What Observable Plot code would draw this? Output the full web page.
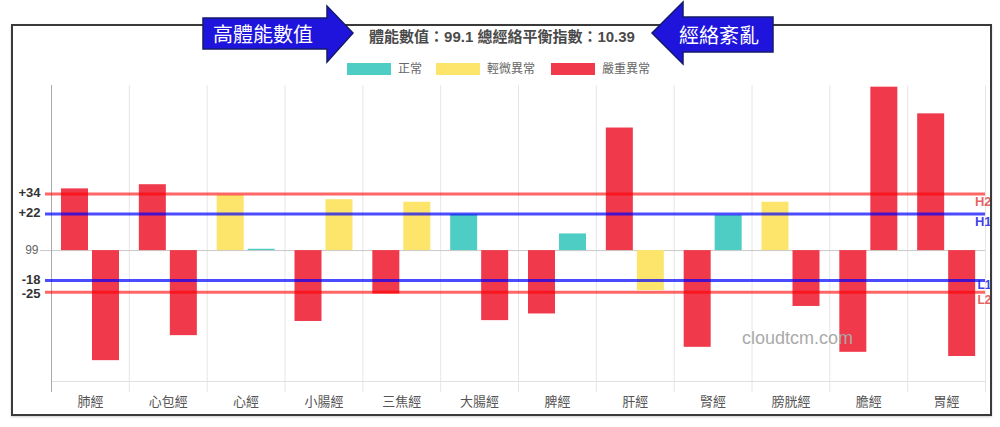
<!DOCTYPE html>
<html><head><meta charset="utf-8">
<script src="https://cdn.jsdelivr.net/npm/d3@7"></script>
<script src="https://cdn.jsdelivr.net/npm/@observablehq/plot@0.6"></script>
<style>
html,body{margin:0;padding:0;background:#fff;}
#wrap{position:relative;width:1000px;height:427px;overflow:hidden;font-family:"Liberation Sans",Arial,"Noto Sans CJK TC",sans-serif;}
#head{position:relative;height:80px;}
#border{position:absolute;left:11px;top:24px;width:977px;height:388px;border:2px solid #3a3a3a;z-index:1;pointer-events:none;box-shadow:0 1px 2px #ccc;}
#title{position:absolute;left:0;top:28px;width:1004px;text-align:center;font-size:15px;font-weight:bold;color:#4a4a4a;line-height:18px;z-index:2;}
.sw{position:absolute;top:63px;width:44px;height:12px;}
.lt{position:absolute;top:61px;font-size:12px;color:#666;line-height:16px;}
#arrows{position:absolute;left:0;top:0;z-index:3;}
#wm{position:absolute;left:742px;top:327px;font-size:18px;color:#aaa;z-index:2;line-height:22px;}
#chart{position:relative;z-index:0;}
</style>
</head><body>
<div id="wrap">
  <div id="border"></div>
  <div id="head">
    <div id="title">體能數值：99.1 總經絡平衡指數：10.39</div>
    <div id="legend"></div>
    <svg id="arrows" width="1000" height="80">
      <polygon points="203,18 327,18 327,6 353,33 327,62 327,49 203,49" fill="#1e14dc" stroke="#141a6a" stroke-width="1.5"/>
      <text x="213" y="42" fill="#fff" font-size="20" font-family="Noto Sans CJK TC">高體能數值</text>
      <polygon points="652,33 683,2 683,17 773,17 773,52 683,52 683,64" fill="#1e14dc" stroke="#141a6a" stroke-width="1.5"/>
      <text x="679" y="43" fill="#fff" font-size="20" font-family="Noto Sans CJK TC">經絡紊亂</text>
    </svg>
  </div>
  <div id="chart"></div>
  <div id="wm">cloudtcm.com</div>
</div>
<script>
// Data
const categories = ["肺經","心包經","心經","小腸經","三焦經","大腸經","脾經","肝經","腎經","膀胱經","膽經","胃經"];
const leftValues  = [37, 39.5, 33, -42.5, -26, 21.5, -38, 73.5, -58, 29, -61, 82];
const rightValues = [-66, -51, 0.8, 30.5, 29, -42, 10, -24, 21, -33.5, 98, -63.5];
const leftStatus  = ["嚴重異常","嚴重異常","輕微異常","嚴重異常","嚴重異常","正常","嚴重異常","嚴重異常","嚴重異常","輕微異常","嚴重異常","嚴重異常"];
const rightStatus = ["嚴重異常","嚴重異常","正常","輕微異常","輕微異常","嚴重異常","正常","輕微異常","正常","嚴重異常","嚴重異常","嚴重異常"];
const statusNames  = ["正常","輕微異常","嚴重異常"];
const statusColors = ["#4ecdc4","#fde46b","#f0394b"];
const thresholdValues = [34, 22, -18, -25];
const thresholdLabels = ["H2","H1","L1","L2"];
const thresholdKinds  = ["red","blue","blue","red"];
const baseLabel = "99";
const yMin = -78.5, yMax = 99;

// Legend
const legend = document.getElementById("legend");
const swX = [347, 436, 551];
statusNames.forEach((n, i) => {
  const s = document.createElement("div");
  s.className = "sw"; s.style.left = swX[i] + "px"; s.style.background = statusColors[i];
  legend.appendChild(s);
  const t = document.createElement("div");
  t.className = "lt"; t.style.left = (swX[i] + 51) + "px"; t.textContent = n;
  legend.appendChild(t);
});

const rowsL = categories.map((c, i) => ({cat: c, v: leftValues[i], s: leftStatus[i]}));
const rowsR = categories.map((c, i) => ({cat: c, v: rightValues[i], s: rightStatus[i]}));
const thr = thresholdValues.map((v, i) => ({v, label: thresholdLabels[i], kind: thresholdKinds[i]}));

const W = 1000, H = 347, mL = 51, mR = 15;
const bw = (W - mL - mR) / categories.length;
const font = '"Liberation Sans",Arial,"Noto Sans CJK TC",sans-serif';
const fmt = d => (d > 0 ? "+" : "") + d;

const chart = Plot.plot({
  width: W, height: H,
  marginTop: 5, marginBottom: 46, marginLeft: mL, marginRight: mR,
  style: {background: "transparent", fontFamily: font, overflow: "visible"},
  x: {domain: categories, padding: 0, round: false, label: null},
  y: {domain: [yMin, yMax], label: null},
  color: {domain: statusNames, range: statusColors},
  marks: [
    Plot.ruleX(categories, {x: d => d, dx: -bw / 2, stroke: "#e6e6e6", insetBottom: -11}),
    Plot.ruleX([categories[categories.length - 1]], {x: d => d, dx: bw / 2, stroke: "#e6e6e6", insetBottom: -11}),
    Plot.ruleY([yMin], {stroke: "#e0e0e0"}),
    Plot.ruleY([0], {stroke: "#c8c8c8", insetLeft: -11}),
    Plot.barY(rowsL, {x: "cat", y: "v", fill: "s", insetLeft: 10, insetRight: bw - 37}),
    Plot.barY(rowsR, {x: "cat", y: "v", fill: "s", insetLeft: 41, insetRight: bw - 68}),
    Plot.ruleX([categories[0]], {x: d => d, dx: -bw / 2, stroke: "#aaa", insetBottom: -11}),
    Plot.ruleY(thr.filter(d => d.kind === "red"), {y: "v", stroke: "#ff0000", strokeOpacity: 0.6, strokeWidth: 3, insetLeft: -6}),
    Plot.ruleY(thr.filter(d => d.kind === "blue"), {y: "v", stroke: "#0000ff", strokeOpacity: 0.7, strokeWidth: 3, insetLeft: -6}),
    Plot.text(thr.filter(d => d.v > 0 && d.kind === "red"), {y: "v", text: "label", frameAnchor: "right", textAnchor: "end", dx: 6, dy: 8, fill: "#e03030", fillOpacity: 0.75, fontWeight: "bold", fontSize: 13}),
    Plot.text(thr.filter(d => d.v > 0 && d.kind === "blue"), {y: "v", text: "label", frameAnchor: "right", textAnchor: "end", dx: 6, dy: 8, fill: "#2020e0", fillOpacity: 0.85, fontWeight: "bold", fontSize: 13}),
    Plot.text(thr.filter(d => d.v < 0 && d.kind === "blue"), {y: "v", text: "label", frameAnchor: "right", textAnchor: "end", dx: 6, dy: 5, fill: "#2020e0", fillOpacity: 0.85, fontWeight: "bold", fontSize: 12}),
    Plot.text(thr.filter(d => d.v < 0 && d.kind === "red"), {y: "v", text: "label", frameAnchor: "right", textAnchor: "end", dx: 6, dy: 8, fill: "#e03030", fillOpacity: 0.75, fontWeight: "bold", fontSize: 12}),
    Plot.axisY(thresholdValues.filter(v => v > -20), {tickFormat: fmt, tickSize: 0, tickPadding: 11, dy: -1, fontSize: 13, fontWeight: "bold", color: "#333", label: null}),
    Plot.axisY(thresholdValues.filter(v => v < -20), {tickFormat: fmt, tickSize: 0, tickPadding: 11, dy: 1.5, fontSize: 13, fontWeight: "bold", color: "#333", label: null}),
    Plot.axisY([0], {tickFormat: () => baseLabel, tickSize: 0, tickPadding: 13, fontSize: 12, color: "#666", label: null}),
    Plot.axisX({tickSize: 0, tickPadding: 15, fontSize: 13, color: "#555", label: null})
  ]
});
document.getElementById("chart").appendChild(chart);
</script>
</body></html>
